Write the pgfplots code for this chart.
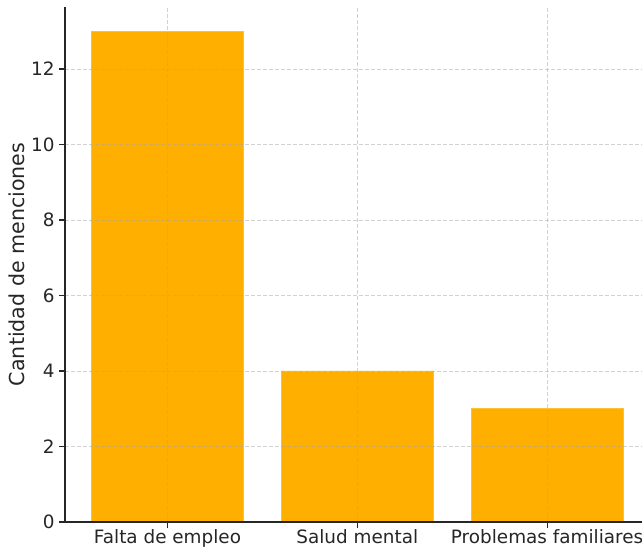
\documentclass[border=0pt]{standalone}
\usepackage{pgfplots}
\pgfplotsset{compat=1.18}
\usepackage{fontspec}
\setmainfont{DejaVu Sans}
\definecolor{barorange}{HTML}{FFAF00}
\definecolor{spine}{HTML}{262626}
\begin{document}
\begin{tikzpicture}
\begin{axis}[
  scale only axis,
  width=584.6bp, height=515.3bp,
  xmin=-0.54, xmax=2.54,
  ymin=0, ymax=13.65,
  xtick={0,1,2},
  xticklabels={Falta de empleo, Salud mental, Problemas familiares},
  ytick={0,2,4,6,8,10,12},
  axis x line*=bottom, axis y line*=left,
  axis line style={spine, line width=1.1bp},
  every tick/.style={spine, line width=1.1bp},
  tick align=outside,
  major tick length=6bp,
  grid=major,
  major grid style={gray!70, dash pattern=on 4bp off 2bp, line width=0.8bp, opacity=0.5},
  axis on top,
  tick label style={font=\fontsize{18.4bp}{22bp}\selectfont, text=spine},
  /pgf/number format/assume math mode=true,
  ylabel={Cantidad de menciones},
  ylabel style={font=\fontsize{20.6bp}{24bp}\selectfont, text=spine, yshift=-1bp},
  xticklabel style={yshift=2bp},
  yticklabel style={xshift=-1bp},
]
\addplot[ybar, bar width=0.8, fill=barorange, draw=barorange!80!white, line width=0.5bp, bar shift=0pt]
  coordinates {(0,13) (1,4) (2,3)};
\end{axis}
\pgfresetboundingbox
\path[use as bounding box] ([xshift=-65bp, yshift=-26bp]current axis.south west) rectangle ([xshift=-7.6bp, yshift=6.7bp]current axis.north east);
\end{tikzpicture}
\end{document}
